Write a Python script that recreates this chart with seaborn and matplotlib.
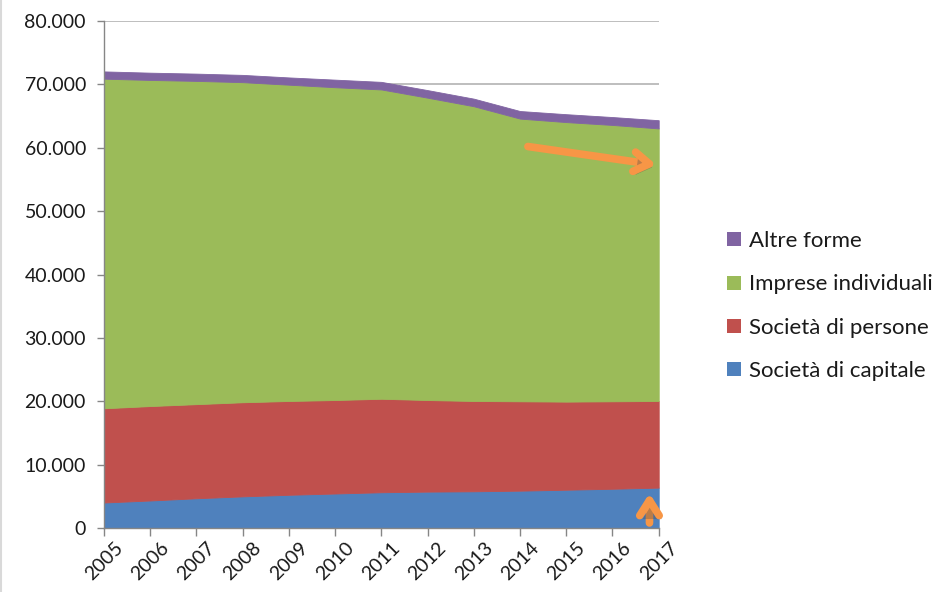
import seaborn as sns
import matplotlib.pyplot as plt
import matplotlib.patheffects as pe
from matplotlib.lines import Line2D
from matplotlib.patches import Patch
from matplotlib.ticker import FuncFormatter

# data
years = list(range(2005, 2018))
societa_capitale = [4030, 4350, 4700, 5000, 5250, 5450, 5650, 5750, 5800, 5900, 6050, 6200, 6380]
societa_persone = [14870, 14900, 14850, 14850, 14800, 14750, 14750, 14450, 14250, 14100, 13900, 13800, 13670]
imprese_individuali = [52000, 51450, 51000, 50500, 49900, 49350, 48800, 47700, 46500, 44600, 44100, 43600, 43000]
altre_forme = [1150, 1150, 1150, 1150, 1150, 1200, 1200, 1200, 1200, 1200, 1250, 1250, 1300]

labels = ["Società di capitale", "Società di persone", "Imprese individuali", "Altre forme"]
colors = ["#4F81BD", "#C0504D", "#9BBB59", "#8064A2"]
yticks = list(range(0, 80001, 10000))

sns.set_style("white")
plt.rcParams['font.family'] = ['Lato', 'DejaVu Sans']

fig = plt.figure(figsize=(9.37, 5.92), dpi=100)
ax = fig.add_axes([0.111, 0.108, 0.592, 0.8565])

# gridlines behind the areas
for v in yticks:
    ax.axhline(v, color="#B3B3B3", lw=1.2, zorder=0)

polys = ax.stackplot(years, societa_capitale, societa_persone, imprese_individuali, altre_forme,
                     colors=colors, zorder=2)
for p, c in zip(polys, colors):
    p.set_edgecolor(c)
    p.set_linewidth(0.6)

ax.set_xlim(years[0], years[-1])
ax.set_ylim(0, 80000)
ax.set_xticks(years)
ax.set_xticklabels([str(y) for y in years], rotation=45, fontsize=14)
ax.set_yticks(yticks)
ax.yaxis.set_major_formatter(FuncFormatter(lambda v, p: f"{v:,.0f}".replace(",", ".")))
ax.tick_params(axis="y", labelsize=14, length=5, width=1, color="#868686", pad=8, left=True,
               labelcolor="#1A1A1A")
ax.tick_params(axis="x", length=6, width=1, color="#868686", pad=2, bottom=True,
               labelcolor="#1A1A1A")
for lab in ax.get_xticklabels():
    lab.set_ha("center")
    lab.set_va("top")

for side in ["top", "right"]:
    ax.spines[side].set_visible(False)
for side in ["left", "bottom"]:
    ax.spines[side].set_color("#868686")
    ax.spines[side].set_linewidth(1)
    ax.spines[side].set_zorder(3)

# orange arrows
shadow = [pe.SimplePatchShadow(offset=(2, -2.5), alpha=0.35), pe.Normal()]
arrow = dict(arrowstyle="->,head_length=0.55,head_width=0.35", color="#F79646", lw=5.5,
             mutation_scale=20, shrinkA=0, shrinkB=0, capstyle="round", joinstyle="round")
a1 = ax.annotate("", xy=(2016.95, 57300), xytext=(2014.17, 60200), arrowprops=arrow, zorder=5)
a1.arrow_patch.set_path_effects(shadow)
a2 = ax.annotate("", xy=(2016.8, 5500), xytext=(2016.8, 800), arrowprops=arrow, zorder=5)
a2.arrow_patch.set_path_effects(shadow)

# legend, reverse order as in the reference
handles = [Patch(facecolor=c, edgecolor="none") for c in colors][::-1]
fig.legend(handles, labels[::-1], loc="center left", bbox_to_anchor=(0.755, 0.483),
           frameon=False, fontsize=16, handlelength=0.6, handleheight=0.6,
           handletextpad=0.35, labelspacing=1.05, labelcolor="#1A1A1A")

# thin border on the left edge of the picture
fig.add_artist(Line2D([0.001, 0.001], [0, 1], color="#D9D9D9", lw=1.5, transform=fig.transFigure))

fig.savefig("out.png", dpi=100)
